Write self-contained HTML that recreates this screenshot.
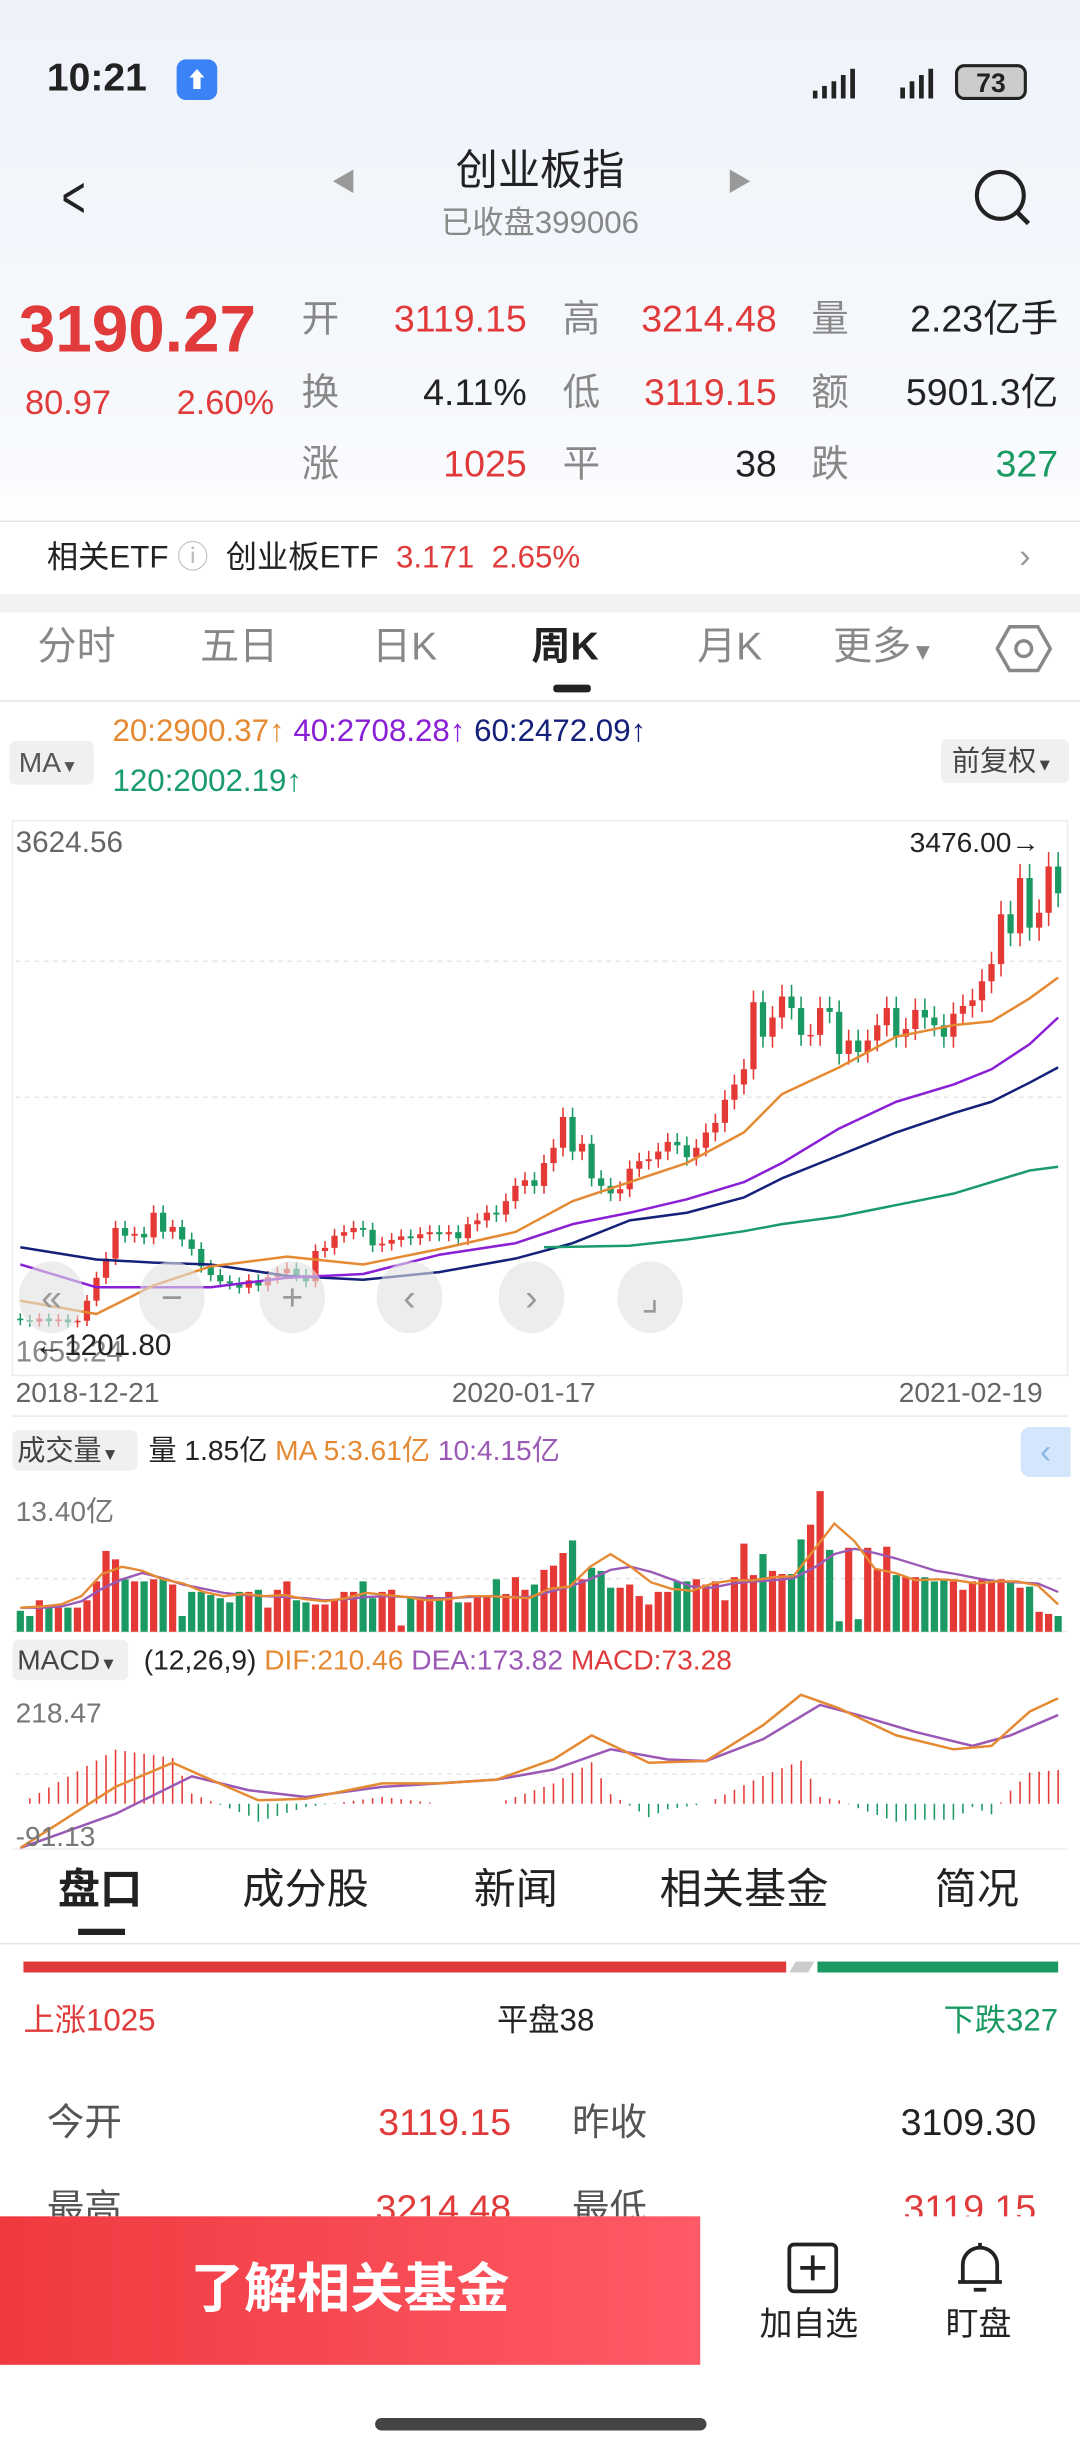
<!DOCTYPE html>
<html><head><meta charset="utf-8">
<style>
html,body{margin:0;padding:0;width:1080px;height:2449px;overflow:hidden;background:#fff}
#root{position:absolute;left:0;top:0;width:691px;height:1567px;transform:scale(1.5630);transform-origin:0 0;font-family:"Liberation Sans","Noto Sans CJK SC",sans-serif;color:#222;background:linear-gradient(#eef3fa 0px,#f8fafd 300px,#fff 330px)}
.a{position:absolute;white-space:nowrap;line-height:1}
.r{color:#e03a3a}.g{color:#1a9a62}.gr{color:#888}
.box{position:absolute;background:#f0f0f0;border-radius:4px}
</style></head><body>
<div id="root">
<div class="a" style="left:30px;top:38px;font-size:25px;font-weight:bold">10:21</div>
<div class="a" style="left:113px;top:38px;width:26px;height:26px;background:#3b82f6;border-radius:6px;color:#fff;font-size:14px;text-align:center;line-height:26px">⬆</div>
<svg class="a" style="left:520px;top:40px" width="140" height="26">
<g fill="#222"><rect x="0" y="18" width="3" height="5"/><rect x="6" y="15" width="3" height="8"/><rect x="12" y="12" width="3" height="11"/><rect x="18" y="8" width="3" height="15"/><rect x="24" y="4" width="3" height="19"/>
<rect x="56" y="16" width="3" height="7"/><rect x="62" y="12" width="3" height="11"/><rect x="68" y="8" width="3" height="15"/><rect x="74" y="4" width="3" height="19"/></g>
<rect x="92" y="2" width="44" height="21" rx="5" fill="#ccc" stroke="#222" stroke-width="2"/><text x="114" y="19" font-size="17" font-weight="bold" text-anchor="middle" fill="#222">73</text></svg>
<div class="a" style="left:36px;top:108px;font-size:38px;color:#222;transform:scaleX(.7)">&lt;</div>
<div class="a" style="left:212px;top:110px;font-size:16px;color:#999">◀</div>
<div class="a" style="left:465px;top:110px;font-size:16px;color:#999">▶</div>
<div class="a" style="left:0;width:691px;text-align:center;top:96px;font-size:27px">创业板指</div>
<div class="a gr" style="left:0;width:691px;text-align:center;top:133px;font-size:20px">已收盘399006</div>
<svg class="a" style="left:620px;top:106px" width="44" height="44"><circle cx="20" cy="19" r="15" fill="none" stroke="#222" stroke-width="2.6"/><line x1="31" y1="30" x2="38" y2="37" stroke="#222" stroke-width="3"/></svg>

<div class="a r" style="left:12px;top:190px;font-size:42px;font-weight:bold">3190.27</div>
<div class="a r" style="left:16px;top:247px;font-size:22px">80.97</div>
<div class="a r" style="left:113px;top:247px;font-size:22px">2.60%</div>
<div style="font-size:24px">
<div class="a gr" style="left:193px;top:193px">开</div><div class="a r" style="right:354px;top:193px">3119.15</div>
<div class="a gr" style="left:360px;top:193px">高</div><div class="a r" style="right:194px;top:193px">3214.48</div>
<div class="a gr" style="left:519px;top:193px">量</div><div class="a" style="right:14px;top:193px">2.23亿手</div>
<div class="a gr" style="left:193px;top:240px">换</div><div class="a" style="right:354px;top:240px">4.11%</div>
<div class="a gr" style="left:360px;top:240px">低</div><div class="a r" style="right:194px;top:240px">3119.15</div>
<div class="a gr" style="left:519px;top:240px">额</div><div class="a" style="right:14px;top:240px">5901.3亿</div>
<div class="a gr" style="left:193px;top:286px">涨</div><div class="a r" style="right:354px;top:286px">1025</div>
<div class="a gr" style="left:360px;top:286px">平</div><div class="a" style="right:194px;top:286px">38</div>
<div class="a gr" style="left:519px;top:286px">跌</div><div class="a g" style="right:14px;top:286px">327</div>
</div>
<div class="a" style="left:0;top:333px;width:691px;height:1px;background:#e6e6e6"></div>
<div class="a" style="left:0;top:334px;width:691px;height:46px;background:#fff"></div>
<div class="a" style="left:30px;top:347px;font-size:20px">相关ETF <span style="color:#bbb">ⓘ</span> &nbsp;创业板ETF <span class="r">&nbsp;3.171 &nbsp;2.65%</span></div>
<div class="a" style="left:652px;top:345px;font-size:22px;color:#999">›</div>
<div class="a" style="left:0;top:380px;width:691px;height:12px;background:#f2f2f4"></div>
<div class="a" style="left:0;top:392px;width:691px;height:1175px;background:#fff"></div>
<div style="font-size:25px">
<div class="a gr" style="left:24px;top:402px">分时</div>
<div class="a gr" style="left:128px;top:402px">五日</div>
<div class="a gr" style="left:238px;top:402px">日K</div>
<div class="a" style="left:340px;top:402px;font-weight:bold">周K</div>
<div class="a" style="left:354px;top:438px;width:24px;height:5px;background:#222;border-radius:2px"></div>
<div class="a gr" style="left:446px;top:402px">月K</div>
<div class="a gr" style="left:533px;top:402px">更多<span style="font-size:15px">▼</span></div>
<svg class="a" style="left:637px;top:398px" width="36" height="34"><polygon points="9,3 27,3 35,17 27,31 9,31 1,17" fill="none" stroke="#888" stroke-width="2.2"/><circle cx="18" cy="17" r="5" fill="none" stroke="#888" stroke-width="2.2"/></svg>
</div>
<div class="a" style="left:0;top:448px;width:691px;height:1px;background:#e6e6e6"></div>
<div class="box" style="left:6px;top:474px;width:54px;height:28px"></div>
<div class="a" style="left:12px;top:479px;font-size:18px;color:#555">MA<span style="font-size:11px">▼</span></div>
<div class="a" style="left:72px;top:458px;font-size:20px"><span style="color:#e58a32">20:2900.37↑</span> <span style="color:#8a1fd6">40:2708.28↑</span> <span style="color:#15207a">60:2472.09↑</span></div>
<div class="a" style="left:72px;top:490px;font-size:20px;color:#1a9a70">120:2002.19↑</div>
<div class="box" style="left:602px;top:473px;width:82px;height:28px"></div>
<div class="a" style="left:609px;top:478px;font-size:18px;color:#444">前复权<span style="font-size:11px">▼</span></div>

<svg id="chart" class="a" style="left:0;top:0" width="691" height="1567"></svg>

<div class="a" style="left:10px;top:530px;font-size:19px;color:#666">3624.56</div>
<div class="a" style="left:582px;top:530px;font-size:18px;color:#222">3476.00→</div>
<div class="a" style="left:10px;top:856px;font-size:19px;color:#888">1653.24</div>
<div class="a" style="left:22px;top:852px;font-size:19px;color:#222">←1201.80</div>
<div class="a" style="left:10px;top:882px;font-size:18px;color:#666">2018-12-21</div>
<div class="a" style="left:289px;top:882px;font-size:18px;color:#666">2020-01-17</div>
<div class="a" style="left:575px;top:882px;font-size:18px;color:#666">2021-02-19</div>

<div class="box" style="left:8px;top:915px;width:80px;height:26px"></div>
<div class="a" style="left:11px;top:919px;font-size:18px;color:#444">成交量<span style="font-size:11px">▼</span></div>
<div class="a" style="left:95px;top:919px;font-size:18px">量 1.85亿 <span style="color:#e58a32">MA 5:3.61亿</span> <span style="color:#9b59b6">10:4.15亿</span></div>
<div class="a" style="left:653px;top:913px;width:32px;height:32px;background:#d4e6fb;border-radius:6px 0 0 6px;color:#8bb8ea;font-size:22px;text-align:center;line-height:32px">‹</div>
<div class="a" style="left:10px;top:958px;font-size:18px;color:#777">13.40亿</div>
<div class="box" style="left:8px;top:1049px;width:74px;height:26px"></div>
<div class="a" style="left:11px;top:1053px;font-size:18px;color:#444">MACD<span style="font-size:11px">▼</span></div>
<div class="a" style="left:92px;top:1053px;font-size:18px">(12,26,9) <span style="color:#e58a32">DIF:210.46</span> <span style="color:#9b59b6">DEA:173.82</span> <span style="color:#e03a3a">MACD:73.28</span></div>
<div class="a" style="left:10px;top:1087px;font-size:18px;color:#777">218.47</div>
<div class="a" style="left:10px;top:1166px;font-size:18px;color:#777">-91.13</div>

<div style="font-size:27px">
<div class="a" style="left:37px;top:1196px;font-weight:bold">盘口</div>
<div class="a" style="left:50px;top:1234px;width:30px;height:4px;background:#222"></div>
<div class="a" style="left:155px;top:1196px">成分股</div>
<div class="a" style="left:303px;top:1196px">新闻</div>
<div class="a" style="left:422px;top:1196px">相关基金</div>
<div class="a" style="left:598px;top:1196px">简况</div>
</div>
<div class="a" style="left:0;top:1243px;width:691px;height:1px;background:#e6e6e6"></div>
<div class="a" style="left:15px;top:1255px;width:488px;height:7px;background:#e03a3a"></div>
<div class="a" style="left:507px;top:1255px;width:12px;height:7px;background:#ccc;transform:skewX(-30deg)"></div>
<div class="a" style="left:523px;top:1255px;width:154px;height:7px;background:#1a9a62"></div>
<div class="a r" style="left:15px;top:1283px;font-size:20px">上涨1025</div>
<div class="a" style="left:318px;top:1283px;font-size:20px">平盘38</div>
<div class="a g" style="right:14px;top:1283px;font-size:20px">下跌327</div>
<div class="a" style="left:30px;top:1347px;font-size:24px;color:#555">今开</div>
<div class="a r" style="right:364px;top:1347px;font-size:24px">3119.15</div>
<div class="a" style="left:366px;top:1347px;font-size:24px;color:#555">昨收</div>
<div class="a" style="right:28px;top:1347px;font-size:24px">3109.30</div>
<div class="a" style="left:30px;top:1402px;font-size:24px;color:#555">最高</div>
<div class="a r" style="right:364px;top:1402px;font-size:24px">3214.48</div>
<div class="a" style="left:366px;top:1402px;font-size:24px;color:#555">最低</div>
<div class="a r" style="right:28px;top:1402px;font-size:24px">3119.15</div>

<div class="a" style="left:0;top:1418px;width:691px;height:149px;background:#fff"></div>
<div class="a" style="left:0;top:1418px;width:448px;height:95px;background:linear-gradient(90deg,#f0393f,#ff5a66);color:#fff;font-size:34px;font-weight:bold;text-align:center;line-height:95px">了解相关基金</div>
<svg class="a" style="left:503px;top:1434px" width="34" height="34"><rect x="2" y="2" width="30" height="30" rx="3" fill="none" stroke="#222" stroke-width="2.4"/><path d="M17 9v16M9 17h16" stroke="#222" stroke-width="2.4"/></svg>
<div class="a" style="left:486px;top:1477px;font-size:21px">加自选</div>
<svg class="a" style="left:610px;top:1432px" width="34" height="38"><path d="M6 28V17a11 11 0 0 1 22 0v11zM3 28h28M13 33h8M17 3v3" fill="none" stroke="#222" stroke-width="2.4"/></svg>
<div class="a" style="left:605px;top:1477px;font-size:21px">盯盘</div>
<div class="a" style="left:240px;top:1547px;width:212px;height:8px;border-radius:4px;background:#444"></div>
</div>

<script>
const closes=[1255,1248,1262,1250,1258,1245,1252,1348,1457,1549,1695,1658,1667,1650,1768,1677,1700,1640,1595,1512,1470,1440,1430,1410,1445,1420,1460,1480,1500,1470,1440,1585,1600,1658,1675,1695,1686,1612,1620,1638,1655,1646,1665,1675,1665,1675,1646,1713,1731,1768,1759,1823,1896,1923,1896,2005,2078,2225,2060,2097,1932,1896,1860,1880,1978,2014,2023,2060,2106,2090,2033,2078,2151,2197,2307,2380,2453,2773,2608,2700,2800,2745,2617,2617,2745,2727,2526,2590,2535,2590,2663,2745,2608,2645,2736,2700,2663,2608,2718,2755,2782,2873,2955,3193,3102,3366,3129,3200,3421,3293];
const firstOpen=1262;
const maWeeks=[0,8,14,20,28,36,44,52,58,64,70,76,80,86,92,98,102,106,109];
const ma20=[1348,1284,1421,1512,1558,1521,1594,1676,1823,1914,2005,2151,2334,2462,2608,2663,2681,2791,2891];
const ma40=[1521,1412,1412,1412,1457,1475,1567,1622,1713,1768,1832,1914,2005,2170,2298,2380,2453,2572,2700];
const ma60=[1603,1545,1530,1521,1466,1448,1484,1549,1622,1731,1768,1841,1932,2042,2151,2243,2298,2389,2462];
const ma120Weeks=[55,64,70,76,80,86,92,98,102,106,109];
const ma120=[1603,1610,1640,1680,1713,1750,1804,1859,1914,1969,1987];
const volumes=[2,1.5,3,2.3,2.3,2.3,2.3,3,4.8,7.7,6.9,5,4.8,4.8,5,5,4.5,1.5,3.8,3.8,3.5,3.2,2.8,3.8,3.8,4,2.3,4,4.8,3,2.8,2.6,2.6,3,3.8,3.8,4.8,3.2,3.8,4,0.6,3.2,3.2,3.5,3.2,3.8,2.8,2.8,3.5,3.5,5,3.6,5.2,4,4.5,5.9,6.3,7.5,8.7,5,6.1,5.8,4.2,4.2,4.5,3.4,2.6,3.8,3.8,4.8,4.8,5,4.5,4.8,3,5.2,8.4,5.4,7.4,5.8,5.5,5.5,8.8,10.2,13.4,7.8,1,8,1.2,8,6,8.1,5.4,5.2,5.2,5.2,4.8,5,4.8,4,4.8,5,4.8,5,4.8,4.2,4.3,1.9,1.7,1.5];
const volMa5=[2.3,2.4,2.6,3.4,5.5,6.2,5.8,5,4.6,3.8,3.4,3.6,3.4,3.5,3.1,2.9,3.2,3.7,3.5,3.3,3,3.1,3.4,3.4,3.3,3.2,4.1,4.3,6.2,7.4,6.2,4.7,4.1,3.9,4.6,4.9,4.9,5.2,5.3,7.8,10.3,8.6,6,5.6,4.9,5,4.9,4.6,4.8,4.8,4.4,2.6];
const volMa10=[2.3,2.3,2.4,2.9,4.1,5,5.6,5.1,4.5,4.1,3.7,3.5,3.4,3.3,3.2,3,3.1,3.3,3.4,3.3,3.2,3.2,3.3,3.4,3.3,3.3,3.8,4.3,5,5.9,6.2,5.7,5,4.3,4.2,4.6,4.8,4.9,5.1,6.1,7.4,7.9,7.5,7,6.4,5.8,5.5,5.1,4.8,4.7,4.6,3.8];
const macdWeeks=[0,10,16,20,25,30,38,44,50,56,60,66,72,78,82,86,92,98,102,106,109];
const dif=[-105,40,97,57,8,12,48,48,57,105,162,97,101,186,258,226,162,129,137,218,250];
const deaWeeks=[0,10,18,24,30,38,44,50,56,62,68,72,78,84,88,94,100,104,109];
const dea=[-105,-24,65,32,16,40,48,57,81,129,105,101,153,234,210,170,137,162,210];

const NS='http://www.w3.org/2000/svg';
const svg=document.getElementById('chart');
function mk(tag,attrs,name){const e=document.createElementNS(NS,tag);for(const k in attrs)e.setAttribute(k,attrs[k]);


svg.appendChild(e);return e;}
const N=closes.length, X0=13, X1=677;
const xw=i=>X0+i*(X1-X0)/(N-1);
const yP=p=>547+(3476-p)*0.134;
const RED='#e53935', GRN='#1a9a62';
mk('rect',{x:8,y:525,width:675,height:355,fill:'none',stroke:'#ececec'},'price-panel-frame');
[615,702].forEach(y=>mk('line',{x1:10,x2:681,y1:y,y2:y,stroke:'#e5e5e5','stroke-dasharray':'3 3'},'price-grid-line'));
mk('line',{x1:8,x2:683,y1:906,y2:906,stroke:'#ececec'},'chart-separator');
mk('line',{x1:8,x2:683,y1:1044,y2:1044,stroke:'#ececec'},'volume-baseline');
mk('line',{x1:8,x2:683,y1:1183,y2:1183,stroke:'#ececec'},'macd-bottom-line');
mk('line',{x1:10,x2:681,y1:1010,y2:1010,stroke:'#e5e5e5','stroke-dasharray':'3 3'},'volume-grid-line');
mk('line',{x1:10,x2:681,y1:1135,y2:1135,stroke:'#e5e5e5','stroke-dasharray':'3 3'},'macd-grid-line');
const opens=closes.map((c,i)=>i===0?firstOpen:closes[i-1]);
closes.forEach((c,i)=>{const o=opens[i];const up=c>=o;const col=up?RED:GRN;const x=xw(i);
const hi=Math.max(o,c)*1.02, lo=Math.min(o,c)*0.98;
mk('line',{x1:x,x2:x,y1:yP(hi),y2:yP(lo),stroke:col,'stroke-width':1},'candle-wick');
const t=yP(Math.max(o,c)),b=yP(Math.min(o,c));
mk('rect',{x:x-2,y:t,width:4,height:Math.max(1,b-t),fill:col},'candle-body');});
function line(ws,vals,yf,col,name,w){const pts=ws.map((wk,k)=>xw(wk).toFixed(1)+','+yf(vals[k]).toFixed(1)).join(' ');
mk('polyline',{points:pts,fill:'none',stroke:col,'stroke-width':w||1.6,'stroke-linejoin':'round'},name);}
line(maWeeks,ma60,yP,'#15207a','ma60-line');
line(maWeeks,ma40,yP,'#8a1fd6','ma40-line');
line(maWeeks,ma20,yP,'#e58a32','ma20-line');
line(ma120Weeks,ma120,yP,'#1a9a70','ma120-line');
[33,110,187,262,340,416].forEach((cx,k)=>{mk('ellipse',{cx:cx,cy:830,rx:21,ry:23,fill:'rgba(225,225,225,0.6)'},'chart-nav-button');});
const glyphs=['«','−','+','‹','›','⌟'];
[33,110,187,262,340,416].forEach((cx,k)=>{const t=mk('text',{x:cx,y:838,'font-size':24,'text-anchor':'middle',fill:'#999'},'chart-nav-glyph');t.textContent=glyphs[k];});
const yV=v=>1044-v*(1044-954)/13.4;
const VN=volumes.length, xv=i=>X0+i*(X1-X0)/(VN-1);
volumes.forEach((v,i)=>{const ci=Math.round(i*(N-1)/(VN-1));const col=closes[ci]>=opens[ci]?RED:GRN;
mk('rect',{x:xv(i)-2.3,y:yV(v),width:4.6,height:1044-yV(v),fill:col},'volume-bar');});
function vline(arr,col,name){const n=arr.length;const pts=arr.map((v,k)=>(X0+k*(X1-X0)/(n-1)).toFixed(1)+','+yV(v).toFixed(1)).join(' ');
mk('polyline',{points:pts,fill:'none',stroke:col,'stroke-width':1.5},name);}
vline(volMa10,'#9b59b6','volume-ma10-line');
vline(volMa5,'#e58a32','volume-ma5-line');
const yM=v=>1154-v*0.27;
function interp(ws,vals,w){for(let k=0;k<ws.length-1;k++){if(w<=ws[k+1]){const t=(w-ws[k])/(ws[k+1]-ws[k]);return vals[k]+t*(vals[k+1]-vals[k]);}}return vals[vals.length-1];}
for(let i=0;i<N;i++){const h=2*(interp(macdWeeks,dif,i)-interp(deaWeeks,dea,i));
mk('line',{x1:xw(i),x2:xw(i),y1:yM(0),y2:yM(h),stroke:h>=0?RED:GRN,'stroke-width':1},'macd-histogram-bar');}
line(deaWeeks,dea,yM,'#9b59b6','dea-line');
line(macdWeeks,dif,yM,'#e58a32','dif-line');
</script>
</body></html>
